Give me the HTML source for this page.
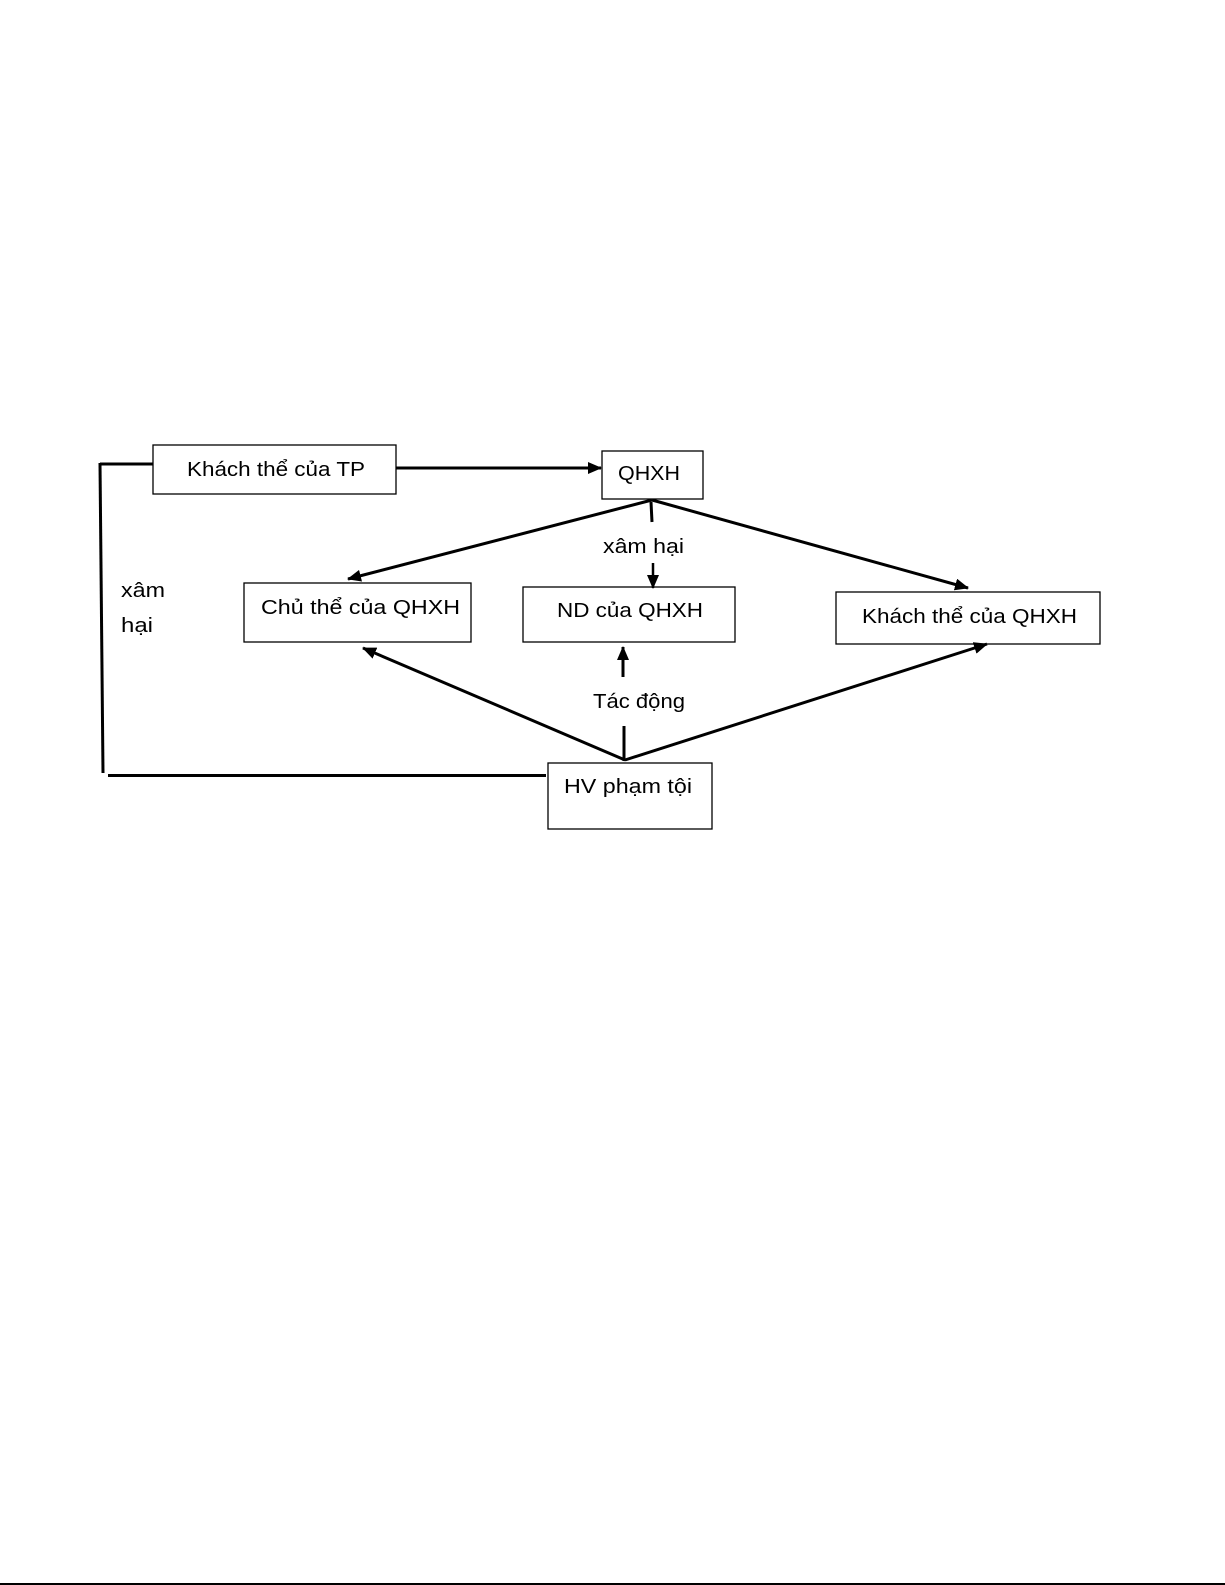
<!DOCTYPE html>
<html>
<head>
<meta charset="utf-8">
<style>
  html, body { margin: 0; padding: 0; background: #fff; }
  svg { display: block; }
  text { font-family: "Liberation Sans", "DejaVu Sans", sans-serif; font-size: 20px; fill: #000; }
</style>
</head>
<body>
<svg width="1225" height="1585" viewBox="0 0 1225 1585" xmlns="http://www.w3.org/2000/svg">
  <defs>
    <marker id="ah" markerUnits="userSpaceOnUse" markerWidth="14" markerHeight="12" refX="13" refY="6" orient="auto">
      <path d="M0,0 L14,6 L0,12 Z" fill="#000"/>
    </marker>
  </defs>
  <rect x="0" y="0" width="1225" height="1585" fill="#fff"/>

  <!-- Boxes -->
  <rect x="153" y="445" width="243" height="49" fill="#fff" stroke="#000" stroke-width="1.3"/>
  <rect x="602" y="451" width="101" height="48" fill="#fff" stroke="#000" stroke-width="1.3"/>
  <rect x="244" y="583" width="227" height="59" fill="#fff" stroke="#000" stroke-width="1.3"/>
  <rect x="523" y="587" width="212" height="55" fill="#fff" stroke="#000" stroke-width="1.3"/>
  <rect x="836" y="592" width="264" height="52" fill="#fff" stroke="#000" stroke-width="1.3"/>
  <rect x="548" y="763" width="164" height="66" fill="#fff" stroke="#000" stroke-width="1.3"/>

  <!-- Left feedback connector -->
  <line x1="100" y1="464" x2="153" y2="464" stroke="#000" stroke-width="3"/>
  <line x1="100" y1="463" x2="103" y2="773" stroke="#000" stroke-width="3"/>
  <line x1="108" y1="775.5" x2="546" y2="775.5" stroke="#000" stroke-width="3"/>

  <!-- TP -> QHXH -->
  <line x1="396" y1="468" x2="601" y2="468" stroke="#000" stroke-width="3" marker-end="url(#ah)"/>

  <!-- QHXH to lower boxes -->
  <line x1="652" y1="500" x2="348" y2="579" stroke="#000" stroke-width="3" marker-end="url(#ah)"/>
  <line x1="652" y1="500" x2="968" y2="588" stroke="#000" stroke-width="3" marker-end="url(#ah)"/>
  <line x1="651" y1="502" x2="652" y2="522" stroke="#000" stroke-width="3"/>
  <line x1="653" y1="563" x2="653" y2="588" stroke="#000" stroke-width="2.5" marker-end="url(#ah)"/>

  <!-- HV to upper boxes -->
  <line x1="625" y1="760" x2="363" y2="648" stroke="#000" stroke-width="3" marker-end="url(#ah)"/>
  <line x1="625" y1="760" x2="987" y2="644" stroke="#000" stroke-width="3" marker-end="url(#ah)"/>
  <line x1="624" y1="761" x2="624" y2="726" stroke="#000" stroke-width="3"/>
  <line x1="623" y1="677" x2="623" y2="647" stroke="#000" stroke-width="3" marker-end="url(#ah)"/>

  <!-- Labels -->
  <text x="187" y="476" textLength="178" lengthAdjust="spacingAndGlyphs">Khách thể của TP</text>
  <text x="618" y="480" textLength="62" lengthAdjust="spacingAndGlyphs">QHXH</text>
  <text x="261" y="614" textLength="199" lengthAdjust="spacingAndGlyphs">Chủ thể của QHXH</text>
  <text x="557" y="617" textLength="146" lengthAdjust="spacingAndGlyphs">ND của QHXH</text>
  <text x="862" y="623" textLength="215" lengthAdjust="spacingAndGlyphs">Khách thể của QHXH</text>
  <text x="603" y="553" textLength="81" lengthAdjust="spacingAndGlyphs">xâm hại</text>
  <text x="593" y="708" textLength="92" lengthAdjust="spacingAndGlyphs">Tác động</text>
  <text x="564" y="793" textLength="128" lengthAdjust="spacingAndGlyphs">HV phạm tội</text>
  <text x="121" y="597" textLength="44" lengthAdjust="spacingAndGlyphs">xâm</text>
  <text x="121" y="632" textLength="32" lengthAdjust="spacingAndGlyphs">hại</text>

  <!-- Bottom page line -->
  <rect x="0" y="1583" width="1225" height="2" fill="#000"/>
</svg>
</body>
</html>
